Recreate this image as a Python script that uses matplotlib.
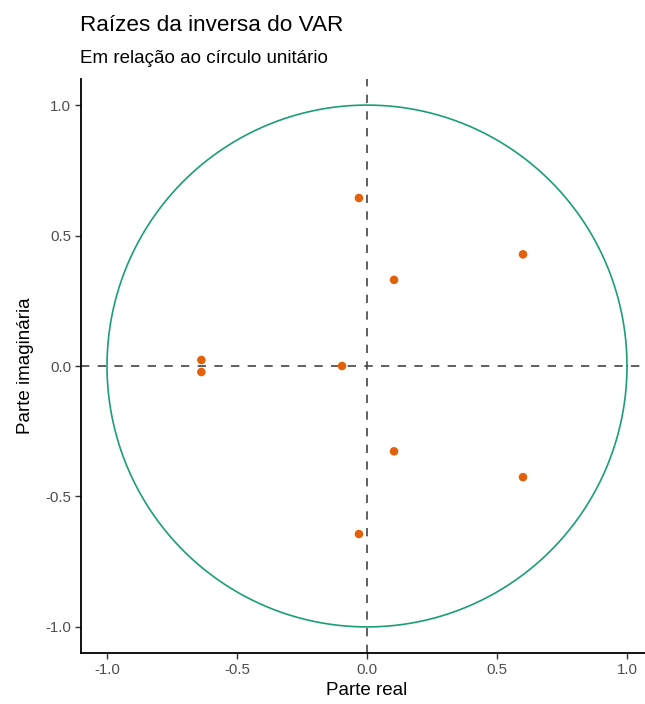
import numpy as np
import matplotlib
matplotlib.use("Agg")
import matplotlib.pyplot as plt

plt.rcParams['font.family'] = ['Liberation Sans', 'DejaVu Sans']

real = [-0.031, 0.104, 0.600, -0.637, -0.637, -0.096, 0.104, 0.600, -0.031]
imag = [0.644, 0.330, 0.428, 0.023, -0.023, 0.000, -0.327, -0.426, -0.644]
ticks = [-1.0, -0.5, 0.0, 0.5, 1.0]
tick_labels = ["-1.0", "-0.5", "0.0", "0.5", "1.0"]
title = "Raízes da inversa do VAR"
subtitle = "Em relação ao círculo unitário"

W, H = 645, 704
fig = plt.figure(figsize=(W/100, H/100), dpi=100)
left_px, top_px, bottom_px = 81, 79, 653
ax = fig.add_axes([left_px/W, (H-bottom_px)/H, 572/W, (bottom_px-top_px)/H])
ax.set_xlim(-1.1, 1.1)
ax.set_ylim(-1.1, 1.1)

theta = np.linspace(0, 2*np.pi, 400)
ax.plot(np.cos(theta), np.sin(theta), color="#1B9E77", lw=1.2, zorder=2)
ax.axhline(0, color="#444444", lw=1.2, ls=(0, (5, 5)), zorder=1)
ax.axvline(0, color="#444444", lw=1.2, ls=(0, (5, 5)), zorder=1)
ax.scatter(real, imag, s=38, color="#E36209", edgecolors="none", zorder=3)

for s in ["top", "right"]:
    ax.spines[s].set_visible(False)
for s in ["left", "bottom"]:
    ax.spines[s].set_linewidth(1.3)
    ax.spines[s].set_color("black")
ax.set_xticks(ticks)
ax.set_xticklabels(tick_labels)
ax.set_yticks(ticks)
ax.set_yticklabels(tick_labels)
ax.tick_params(axis="both", labelsize=10.8, labelcolor="#4D4D4D", color="#333333",
               length=4, width=1.0, pad=3)
ax.set_xlabel("Parte real", fontsize=13.5, labelpad=4)
ax.set_ylabel("Parte imaginária", fontsize=13.5, labelpad=8)

fig.text(80/W, 1-31/H, title, fontsize=16.2, ha="left", va="baseline")
fig.text(80/W, 1-63/H, subtitle, fontsize=13.5, ha="left", va="baseline")

fig.savefig("out.png", dpi=100)
